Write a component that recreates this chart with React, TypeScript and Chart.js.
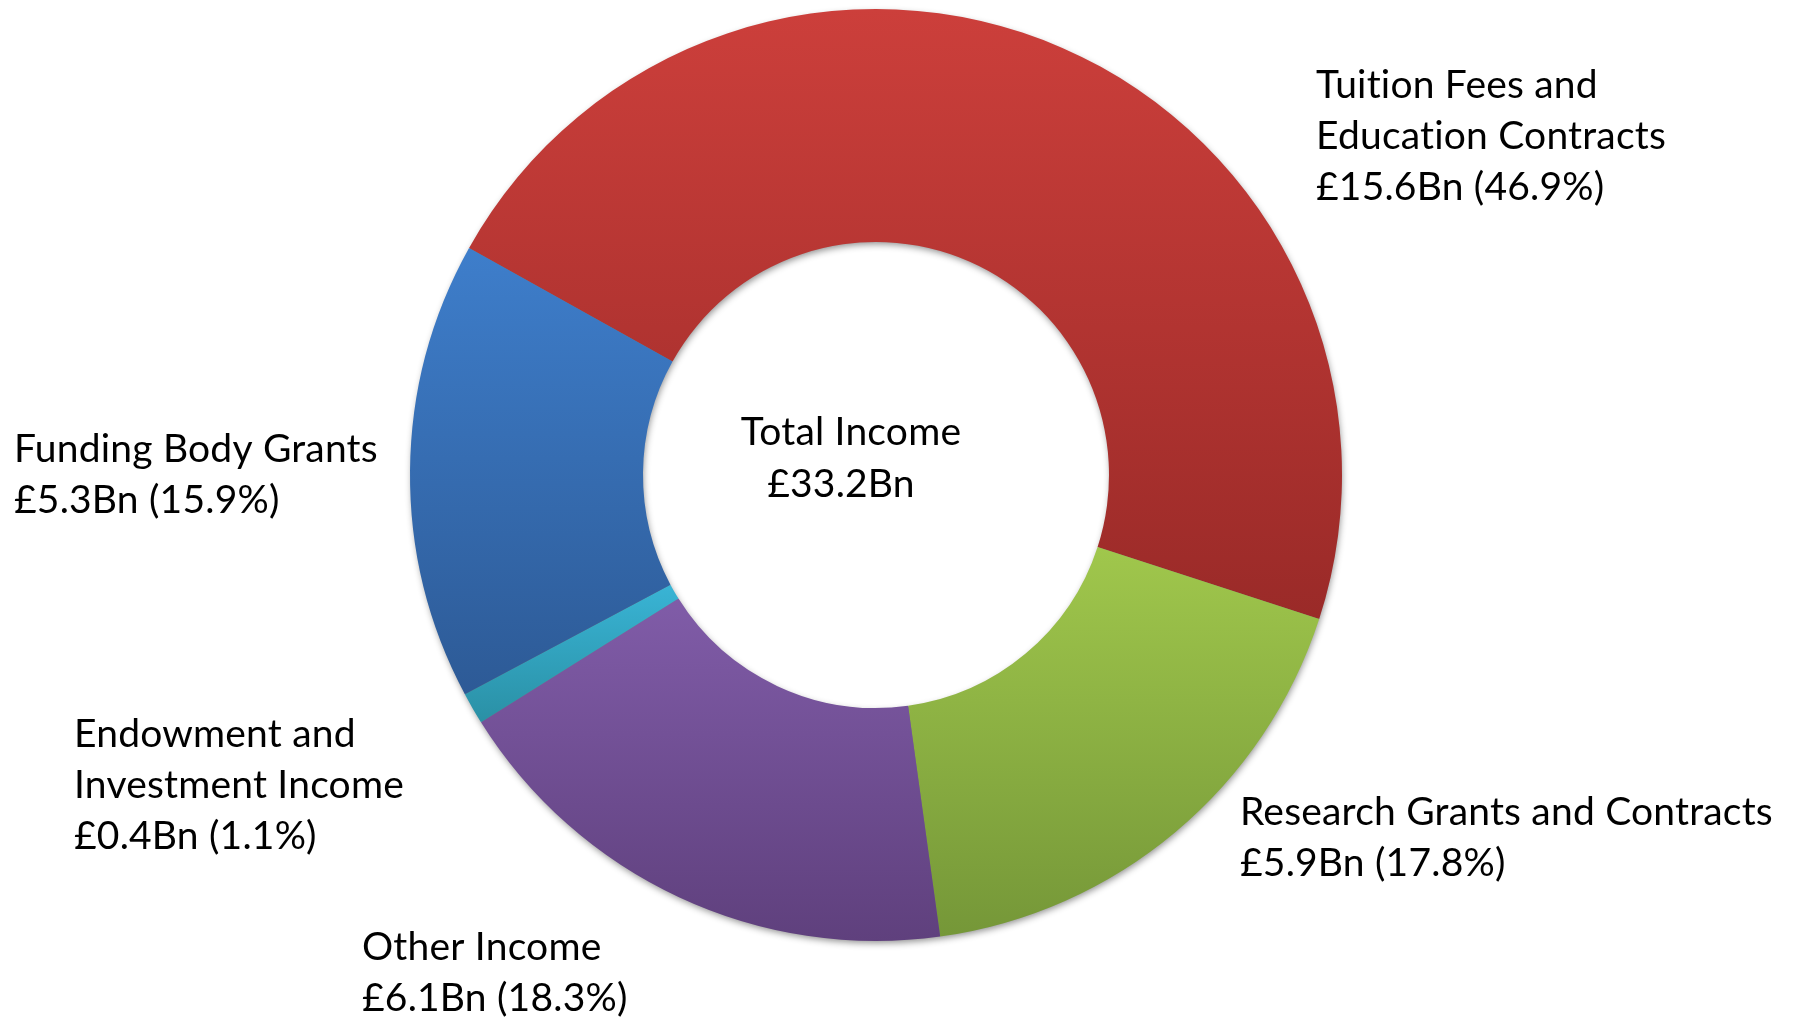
import React, { useEffect, useRef } from "react";
import { Chart, registerables } from "chart.js";

Chart.register(...registerables);

// ---- Data ----
const categories: string[][] = [
  ["Tuition Fees and", "Education Contracts"],
  ["Research Grants and Contracts"],
  ["Other Income"],
  ["Endowment and", "Investment Income"],
  ["Funding Body Grants"],
];
const incomeBn: number[] = [15.6, 5.9, 6.1, 0.4, 5.3];
const sharePct: number[] = [46.9, 17.8, 18.3, 1.1, 15.9];
const totalIncomeBn = 33.2;
const centerLines: string[] = ["Total Income", `£${totalIncomeBn.toFixed(1)}Bn`];

// ---- Styles ----
const topColors = ["#cc3f3b", "#a0c74c", "#805ca8", "#39b4d5", "#3e7ecb"];
const bottomColors = ["#9a2a28", "#759738", "#5f407d", "#2a90a5", "#2d5a96"];
const ROTATION = -60.84;
const CUTOUT = 0.5;
const FONT = "39px Lato, 'Open Sans', sans-serif";
const LINE_H = 51;
// label anchors: left x, first baseline y (page px)
const labelLayout = [
  { x: 1316, y: 98 },
  { x: 1240, y: 825 },
  { x: 362, y: 960 },
  { x: 74, y: 747 },
  { x: 14, y: 462 },
];

function sliceGradient(ctx: any) {
  const i = ctx.dataIndex;
  const chart = ctx.chart;
  const area = chart.chartArea;
  if (!area || i === undefined) return topColors[i ?? 0];
  const cx = (area.left + area.right) / 2;
  const cy = (area.top + area.bottom) / 2;
  const R = Math.min(area.right - area.left, area.bottom - area.top) / 2;
  const r = R * CUTOUT;
  const total = sharePct.reduce((a, b) => a + b, 0);
  let before = 0;
  for (let k = 0; k < i; k++) before += sharePct[k];
  const start = (ROTATION * Math.PI) / 180 - Math.PI / 2 + (before / total) * Math.PI * 2;
  const end = start + (sharePct[i] / total) * Math.PI * 2;
  const ys: number[] = [];
  for (const rad of [R, r]) for (const a of [start, end]) ys.push(cy + rad * Math.sin(a));
  for (let k = -4; k <= 4; k++) {
    const a = Math.PI / 2 + k * Math.PI;
    if (a > start && a < end) ys.push(cy + R * Math.sin(a));
  }
  const y0 = Math.min(...ys);
  const y1 = Math.max(...ys);
  const g = chart.ctx.createLinearGradient(0, y0, 0, y1 + 0.01);
  g.addColorStop(0, topColors[i]);
  g.addColorStop(1, bottomColors[i]);
  return g;
}

const shadowPlugin = {
  id: "ringShadow",
  beforeDatasetsDraw(chart: any) {
    const meta = chart.getDatasetMeta(0);
    const el = meta.data[0];
    if (!el) return;
    const { x, y, outerRadius, innerRadius } = el.getProps(["x", "y", "outerRadius", "innerRadius"], true);
    const c = chart.ctx;
    c.save();
    c.shadowColor = "rgba(0,0,0,0.45)";
    c.shadowBlur = 7;
    c.shadowOffsetX = 1;
    c.shadowOffsetY = 3;
    c.beginPath();
    c.arc(x, y, outerRadius - 1, 0, Math.PI * 2);
    c.arc(x, y, innerRadius + 1, 0, Math.PI * 2, true);
    c.closePath();
    c.fillStyle = "#777";
    c.fill();
    c.restore();
  },
};

const textPlugin = {
  id: "texts",
  afterDraw(chart: any) {
    const c = chart.ctx;
    const el = chart.getDatasetMeta(0).data[0];
    c.save();
    c.font = FONT;
    try {
      (c as any).letterSpacing = "0.2px";
    } catch (e) {}
    c.fillStyle = "#000";
    c.textBaseline = "alphabetic";
    c.textAlign = "left";
    categories.forEach((lines, i) => {
      const pos = labelLayout[i];
      const all = [...lines, `£${incomeBn[i].toFixed(1)}Bn (${sharePct[i].toFixed(1)}%)`];
      all.forEach((t, j) => c.fillText(t, pos.x, pos.y + j * LINE_H));
    });
    if (el) {
      c.textAlign = "center";
      c.fillText(centerLines[0], el.x - 25, el.y - 30);
      c.fillText(centerLines[1], el.x - 35, el.y + 22);
    }
    c.restore();
  },
};

export default function App() {
  const ref = useRef<HTMLCanvasElement | null>(null);
  useEffect(() => {
    if (!ref.current) return;
    const chart = new Chart(ref.current, {
      type: "doughnut",
      data: {
        labels: categories,
        datasets: [
          {
            data: sharePct,
            backgroundColor: sliceGradient as any,
            borderWidth: 0,
          },
        ],
      },
      options: {
        responsive: true,
        maintainAspectRatio: false,
        animation: false,
        rotation: ROTATION,
        cutout: "50%",
        layout: { padding: { left: 410, right: 452, top: 9, bottom: 78 } },
        plugins: { legend: { display: false }, tooltip: { enabled: false } },
      },
      plugins: [shadowPlugin, textPlugin],
    });
    return () => chart.destroy();
  }, []);
  return (
    <div style={{ position: "absolute", left: 0, top: 0, width: 1794, height: 1019, background: "#fff" }}>
      <canvas ref={ref} />
    </div>
  );
}
